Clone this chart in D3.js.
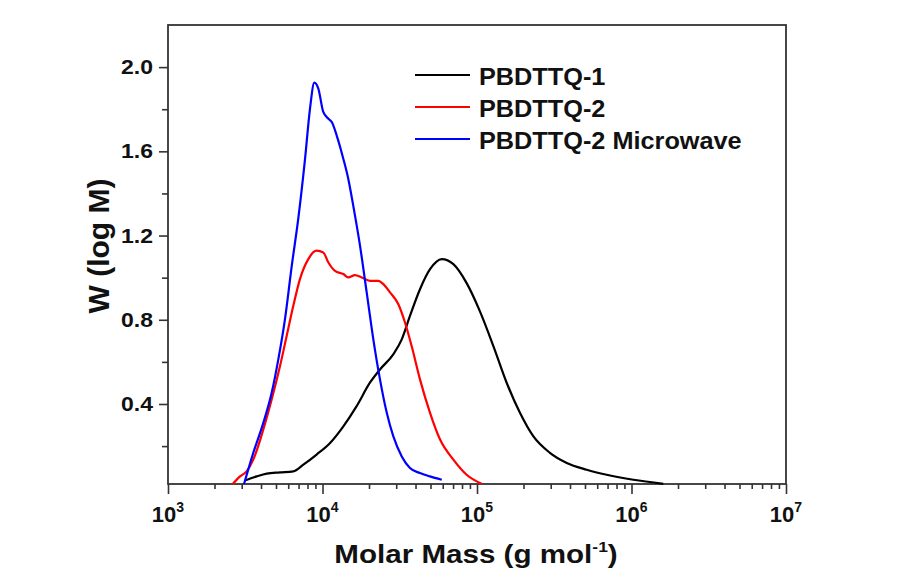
<!DOCTYPE html>
<html>
<head>
<meta charset="utf-8">
<script src="https://cdn.jsdelivr.net/npm/d3@7"></script>
<style>
  body { margin: 0; background: #fff; }
  text { font-family: "Liberation Sans", Arial, sans-serif; font-weight: bold; fill: #111; }
</style>
</head>
<body>
<div id="chart"></div>
<script>
// log10 of molar mass
var logM1 = [3.498, 3.574, 3.639, 3.725, 3.811, 3.876, 3.962, 4.049, 4.135, 4.221, 4.307, 4.372,
  4.458, 4.513, 4.566, 4.631, 4.696, 4.772, 4.847, 4.933, 5.019, 5.106, 5.192, 5.278, 5.364,
  5.472, 5.581, 5.710, 5.839, 6.012, 6.206];
var w1 = [0.037, 0.056, 0.069, 0.075, 0.080, 0.112, 0.160, 0.215, 0.294, 0.390, 0.501, 0.564,
  0.636, 0.707, 0.818, 0.945, 1.040, 1.088, 1.064, 0.974, 0.840, 0.675, 0.501, 0.358, 0.247,
  0.168, 0.120, 0.088, 0.064, 0.040, 0.021];

var logM2 = [3.419, 3.466, 3.509, 3.552, 3.617, 3.671, 3.725, 3.768, 3.811, 3.854, 3.908, 3.962,
  4.005, 4.038, 4.081, 4.135, 4.167, 4.210, 4.254, 4.307, 4.361, 4.394, 4.437, 4.491, 4.534,
  4.577, 4.631, 4.696, 4.761, 4.847, 4.933, 5.030];
var w2 = [0.020, 0.056, 0.080, 0.136, 0.279, 0.421, 0.580, 0.723, 0.866, 0.993, 1.088, 1.128,
  1.120, 1.072, 1.032, 1.017, 1.001, 1.012, 1.001, 0.985, 0.985, 0.969, 0.930, 0.874, 0.787,
  0.675, 0.517, 0.358, 0.231, 0.136, 0.064, 0.021];

var logM3 = [3.492, 3.552, 3.617, 3.671, 3.714, 3.757, 3.801, 3.843, 3.887, 3.919, 3.947, 3.973,
  4.005, 4.038, 4.060, 4.092, 4.135, 4.167, 4.199, 4.243, 4.286, 4.329, 4.372, 4.416, 4.458,
  4.513, 4.566, 4.631, 4.696, 4.772];
var w3 = [0.020, 0.168, 0.310, 0.453, 0.612, 0.802, 1.056, 1.279, 1.564, 1.802, 1.926, 1.898,
  1.787, 1.755, 1.739, 1.675, 1.564, 1.469, 1.342, 1.151, 0.930, 0.707, 0.517, 0.358, 0.247,
  0.151, 0.096, 0.072, 0.056, 0.040];

var names = ["PBDTTQ-1", "PBDTTQ-2", "PBDTTQ-2 Microwave"];
var colors = ["#000000", "#ff0000", "#0000ff"];
var yTicks = [0.4, 0.8, 1.2, 1.6, 2.0];
var yMinor = [0.2, 0.6, 1.0, 1.4, 1.8];
var xDecades = [3, 4, 5, 6, 7];

var width = 897;
var height = 583;
var pLeft = 168, pRight = 786, pTop = 25, pBottom = 484;

var svg = d3
  .select("#chart")
  .append("svg")
  .attr("width", width)
  .attr("height", height);

var xScale = d3.scaleLog().domain([1e3, 1e7]).range([pLeft, pRight]);
var yScale = d3.scaleLinear().domain([0.02, 2.2]).range([pBottom, pTop]);

// minor x ticks: 2..9 in every decade
var xMinor = [];
xDecades.slice(0, -1).forEach(function(d) {
  for (var k = 2; k <= 9; k++) xMinor.push(k * Math.pow(10, d));
});

// Y axis ticks
svg.append("g")
  .attr("transform", "translate(" + pLeft + ",0)")
  .call(d3.axisLeft(yScale).tickValues(yTicks).tickSize(9).tickFormat(""));
svg.append("g")
  .attr("transform", "translate(" + pLeft + ",0)")
  .call(d3.axisLeft(yScale).tickValues(yMinor).tickSize(6).tickFormat(""));

// y tick labels (a bit wide, like the original)
svg.append("g").selectAll("text")
  .data(yTicks)
  .enter()
  .append("text")
  .attr("text-anchor", "end")
  .attr("transform", function(d) {
    return "translate(" + (pLeft - 15) + "," + (yScale(d) + 7) + ") scale(1.18,1)";
  })
  .style("font-size", "19.5px")
  .text(d3.format(".1f"));

// X axis ticks
svg.append("g")
  .attr("transform", "translate(0," + pBottom + ")")
  .call(d3.axisBottom(xScale).tickValues(xDecades.map(function(d) { return Math.pow(10, d); }))
    .tickSize(10).tickFormat(""));
svg.append("g")
  .attr("transform", "translate(0," + pBottom + ")")
  .call(d3.axisBottom(xScale).tickValues(xMinor).tickSize(5).tickFormat(""));

svg.selectAll(".domain").remove();
svg.selectAll(".tick line").attr("stroke", "#333").attr("stroke-width", 1.6);

var xLab = svg.append("g").selectAll("text")
  .data(xDecades)
  .enter()
  .append("text")
  .attr("text-anchor", "middle")
  .attr("transform", function(d) {
    return "translate(" + xScale(Math.pow(10, d)) + ",522)";
  })
  .style("font-size", "22px");
xLab.append("tspan").text("10");
xLab.append("tspan")
  .attr("dy", -10)
  .style("font-size", "14px")
  .text(function(d) { return d; });

// frame
svg.append("rect")
  .attr("x", pLeft)
  .attr("y", pTop)
  .attr("width", pRight - pLeft)
  .attr("height", pBottom - pTop)
  .attr("fill", "none")
  .attr("stroke", "#333")
  .attr("stroke-width", 1.8);

// curves
var series = [d3.zip(logM1, w1), d3.zip(logM2, w2), d3.zip(logM3, w3)];
var line = d3.line()
  .x(function(d) { return xScale(Math.pow(10, d[0])); })
  .y(function(d) { return yScale(d[1]); })
  .curve(d3.curveMonotoneX);

svg.selectAll(".curve")
  .data(series)
  .enter()
  .append("path")
  .attr("class", "curve")
  .attr("d", line)
  .attr("fill", "none")
  .attr("stroke", function(d, i) { return colors[i]; })
  .attr("stroke-width", 2.2);

// legend
var legend = svg.append("g").selectAll("g")
  .data(names)
  .enter()
  .append("g")
  .attr("transform", function(d, i) { return "translate(415," + (75 + i * 32) + ")"; });
legend.append("line")
  .attr("x1", 0)
  .attr("x2", 55)
  .attr("stroke", function(d, i) { return colors[i]; })
  .attr("stroke-width", 2.2);
legend.append("text")
  .attr("transform", "translate(64,10) scale(1.1,1)")
  .style("font-size", "23px")
  .text(function(d) { return d; });

// axis titles
var xTitle = svg.append("text")
  .attr("text-anchor", "middle")
  .attr("transform", "translate(476,563) scale(1.16,1)")
  .style("font-size", "25.5px");
xTitle.append("tspan").text("Molar Mass (g mol");
xTitle.append("tspan").attr("dy", -11).style("font-size", "15px").text("-1");
xTitle.append("tspan").attr("dy", 11).text(")");

svg.append("text")
  .attr("text-anchor", "middle")
  .attr("transform", "translate(109,246) rotate(-90)")
  .style("font-size", "30px")
  .text("W (log M)");
</script>
</body>
</html>
